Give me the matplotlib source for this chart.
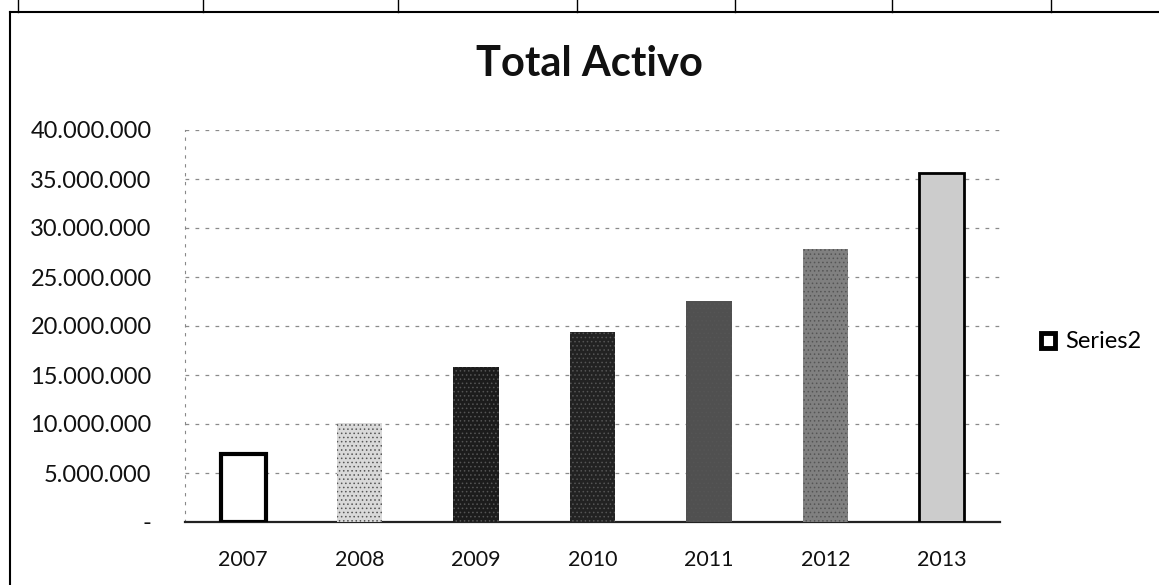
import matplotlib.pyplot as plt
from matplotlib.lines import Line2D
from matplotlib.patches import Patch
from matplotlib.ticker import FuncFormatter

#------------------------------------Data--------------------------------------
years = ["2007", "2008", "2009", "2010", "2011", "2012", "2013"]
total_activo = [6900000, 10100000, 15800000, 19400000, 22600000, 27900000, 35600000]
bar_colors = ["#ffffff", "#d9d9d9", "#1c1c1c", "#222222", "#505050", "#808080", "#cccccc"]
y_ticks = [0, 5000000, 10000000, 15000000, 20000000, 25000000, 30000000, 35000000, 40000000]

plt.rcParams['font.family'] = ['Lato', 'DejaVu Sans']
plt.rcParams['hatch.linewidth'] = 0.6

W, H = 1159, 585
fig = plt.figure(figsize=(W / 100, H / 100), dpi=100)
ax = fig.add_axes([185 / W, 1 - 522 / H, 815 / W, 392 / H])

#------------------------------------Bars--------------------------------------
x = range(len(years))
bars = ax.bar(x, total_activo, width=0.39, color=bar_colors, edgecolor="none", zorder=3)
# scanned look: the outer bars keep a heavy black outline
bars[0].set_edgecolor("black")
bars[0].set_linewidth(3)
bars[-1].set_edgecolor("black")
bars[-1].set_linewidth(2)
for b in bars[1:-1]:
    b.set_hatch("....")
    b.set_edgecolor("#555555")
    b.set_linewidth(0)

#------------------------------------Axes--------------------------------------
ax.set_xlim(-0.5, len(years) - 0.5)
ax.set_ylim(0, 40000000)
ax.set_yticks(y_ticks)
ax.yaxis.set_major_formatter(FuncFormatter(
    lambda v, p: "-" if v == 0 else f"{int(v):,}".replace(",", ".")))
ax.set_xticks(list(x))
ax.set_xticklabels(years)
ax.tick_params(axis="y", length=0, pad=24, labelsize=17, colors="#111111")
ax.tick_params(axis="x", length=0, pad=20, labelsize=15.5, colors="#111111")

ax.grid(axis="y", color="#8a8a8a", linestyle=(0, (3, 5)), linewidth=0.9, zorder=0)
for s in ["top", "right"]:
    ax.spines[s].set_visible(False)
ax.spines["left"].set_linestyle((0, (2, 6)))
ax.spines["left"].set_color("#888888")
ax.spines["left"].set_linewidth(0.8)
ax.spines["bottom"].set_color("#222222")
ax.spines["bottom"].set_linewidth(1.6)

#------------------------------------Title / legend----------------------------
fig.text(589 / W, 1 - 64 / H, "Total Activo", ha="center", va="center",
         fontsize=30, fontweight="bold", color="#111111")
handle = Patch(facecolor="white", edgecolor="black", linewidth=3.5)
fig.legend([handle], ["Series2"], loc="center left",
           bbox_to_anchor=(1020 / W, 1 - 342 / H), frameon=False,
           fontsize=17, handlelength=0.6, handleheight=0.6, handletextpad=0.4)

#------------------------------------Sheet frame-------------------------------
fig.add_artist(Line2D([10 / W, 10 / W], [0, 1 - 12 / H], color="black", lw=1.5))
fig.add_artist(Line2D([10 / W, 1], [1 - 12 / H, 1 - 12 / H], color="black", lw=1.5))
for cx in [18, 203, 398, 577, 735, 892, 1051]:
    fig.add_artist(Line2D([cx / W, cx / W], [1 - 12 / H, 1], color="black", lw=1))

fig.savefig("out.png", dpi=100)
